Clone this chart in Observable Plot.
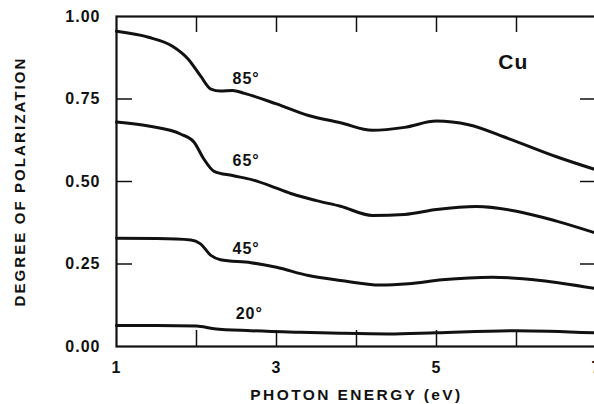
<!DOCTYPE html>
<html><head><meta charset="utf-8">
<script src="https://cdn.jsdelivr.net/npm/d3@7"></script>
<script src="https://cdn.jsdelivr.net/npm/@observablehq/plot@0.6"></script>
<style>body{margin:0;background:#fff;overflow:hidden} svg{display:block}</style>
</head><body><div id="chart"></div>
<script>
// Degree of polarization vs photon energy for Cu at several angles
const energy85 = [1, 1.4, 1.7, 1.9, 2.05, 2.18, 2.3, 2.45, 2.6, 3.0, 3.4, 3.8, 4.2, 4.6, 5.0, 5.4, 5.9, 6.5, 7.0];
const pol85    = [0.955, 0.937, 0.91, 0.87, 0.82, 0.78, 0.774, 0.776, 0.767, 0.735, 0.70, 0.678, 0.655, 0.664, 0.683, 0.672, 0.63, 0.575, 0.535];

const energy65 = [1, 1.4, 1.8, 1.97, 2.09, 2.22, 2.45, 2.7, 3.0, 3.2, 3.5, 3.8, 4.2, 4.6, 5.0, 5.5, 6.0, 6.5, 7.0];
const pol65    = [0.68, 0.668, 0.644, 0.619, 0.569, 0.531, 0.518, 0.505, 0.48, 0.462, 0.442, 0.425, 0.397, 0.40, 0.415, 0.424, 0.41, 0.38, 0.343];

const energy45 = [1, 1.5, 1.93, 2.05, 2.18, 2.3, 2.68, 3.0, 3.4, 3.8, 4.3, 4.65, 5.07, 5.7, 6.3, 7.0];
const pol45    = [0.328, 0.327, 0.323, 0.311, 0.276, 0.263, 0.254, 0.24, 0.215, 0.2, 0.186, 0.19, 0.202, 0.21, 0.2, 0.175];

const energy20 = [1, 1.5, 2.0, 2.22, 2.68, 3.3, 3.8, 4.4, 5.0, 6.0, 7.0];
const pol20    = [0.064, 0.064, 0.062, 0.054, 0.048, 0.043, 0.04, 0.038, 0.042, 0.048, 0.041];

const angles = ["85°", "65°", "45°", "20°"];
const labelEnergy = [2.62, 2.62, 2.62, 2.66];
const labelPol    = [0.812, 0.564, 0.297, 0.10];

const xTickLabels = [1, 3, 5, 7];
const xTickMarks  = [2, 3, 4, 5, 6];
const yTickLabels = [0, 0.25, 0.5, 0.75, 1];
const yTickMarks  = [0.25, 0.5, 0.75];

const xTitle = "PHOTON ENERGY (eV)";
const yTitle = "DEGREE OF POLARIZATION";
const element = ["Cu"];
const elementPos = {energy: 5.96, pol: 0.861};

const seriesX = [energy85, energy65, energy45, energy20];
const seriesY = [pol85, pol65, pol45, pol20];
const rows = angles.flatMap((a, k) => seriesX[k].map((e, i) => ({angle: a, energy: e, pol: seriesY[k][i]})));
const labels = angles.map((a, k) => ({text: a, energy: labelEnergy[k], pol: labelPol[k]}));

const ink = "#111";
const font = "'Liberation Sans', Arial, Helvetica, sans-serif";

const chart = Plot.plot({
  width: 594,
  height: 404,
  marginLeft: 116,
  marginRight: -2,
  marginTop: 16,
  marginBottom: 58,
  style: {fontFamily: font, fontWeight: "bold", fontSize: "16px", color: ink, background: "#fff", letterSpacing: "1px", overflow: "visible"},
  x: {domain: [1, 7]},
  y: {domain: [0, 1]},
  marks: [
    Plot.tickX(xTickMarks, {x: d => d, insetTop: 314, stroke: ink, strokeWidth: 1.5}),
    Plot.tickX(xTickMarks, {x: d => d, insetBottom: 314, stroke: ink, strokeWidth: 1.5}),
    Plot.tickY(yTickMarks, {y: d => d, insetRight: 464, stroke: ink, strokeWidth: 1.5}),
    Plot.tickY(yTickMarks, {y: d => d, insetLeft: 464, stroke: ink, strokeWidth: 1.5}),
    Plot.frame({stroke: ink, strokeWidth: 2.2}),
    Plot.line(rows, {x: "energy", y: "pol", z: "angle", stroke: ink, strokeWidth: 3, curve: "monotone-x"}),
    Plot.axisX(xTickLabels, {tickSize: 0, tickPadding: 15, tickFormat: d => String(d), label: null, fontSize: 16, fill: ink}),
    Plot.axisY(yTickLabels, {tickSize: 0, tickPadding: 16, tickFormat: d3.format(".2f"), label: null, fontSize: 16, fill: ink}),
    Plot.text(labels, {x: "energy", y: "pol", text: "text", fontSize: 16, fontWeight: "bold", fill: ink}),
    Plot.text(element, {x: () => elementPos.energy, y: () => elementPos.pol, text: d => d, fontSize: 21, fontWeight: "bold", fill: ink}),
    Plot.text([xTitle], {frameAnchor: "bottom", dy: 49, lineAnchor: "middle", textAnchor: "middle", text: d => d, fontSize: 15.5, fontWeight: "bold", fill: ink}),
    Plot.text([yTitle], {frameAnchor: "left", dx: -96, rotate: -90, lineAnchor: "middle", textAnchor: "middle", text: d => d, fontSize: 15, fontWeight: "bold", fill: ink})
  ]
});
// letter spacing for the axis titles (style only)
d3.select(chart).selectAll("text").each(function () {
  const t = this.textContent;
  if (t === xTitle) this.style.letterSpacing = "2.4px";
  if (t === yTitle) this.style.letterSpacing = "2.1px";
});
document.getElementById("chart").appendChild(chart);
</script>
</body></html>
